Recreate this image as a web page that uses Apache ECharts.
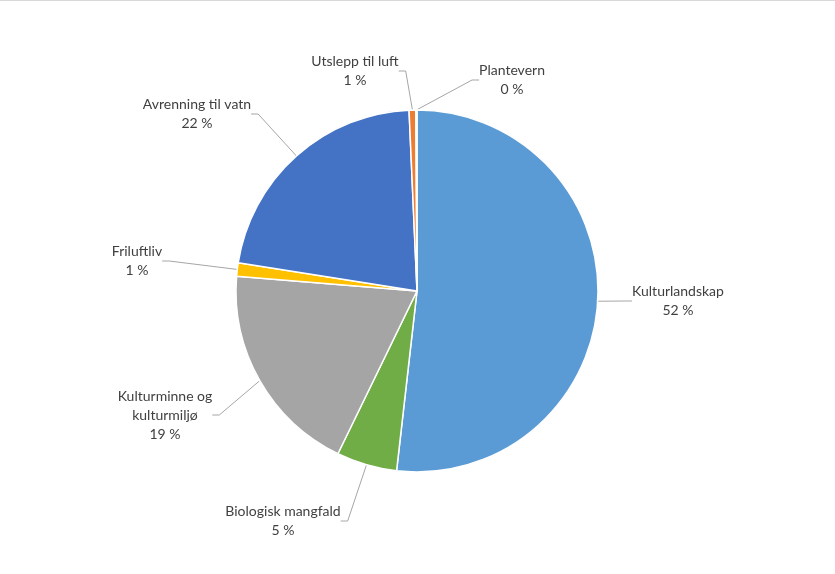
<!DOCTYPE html>
<html>
<head>
<meta charset="utf-8">
<script src="https://cdn.jsdelivr.net/npm/echarts@6/dist/echarts.min.js"></script>
<style>
  html, body { margin: 0; padding: 0; background: #fff; }
  #chart { width: 835px; height: 574px; box-sizing: border-box; border-top: 1px solid #d9d9d9; }
</style>
</head>
<body>
<div id="chart"></div>
<script>
// Data
const categories = ["Kulturlandskap", "Biologisk mangfald", "Kulturminne og\nkulturmiljø", "Friluftliv", "Avrenning til vatn", "Utslepp til luft", "Plantevern"];
const values = [51.8, 5.4, 19.1, 1.2, 21.8, 0.6, 0.1];
const colors = ["#5B9BD5", "#70AD47", "#A5A5A5", "#FFC000", "#4472C4", "#ED7D31", "#A5A5A5"];
// Label placement (centres of label blocks)
const labelPos = [[678, 300], [283, 520], [165, 414], [137, 260], [197, 113], [355, 70], [512, 79]];

const chart = echarts.init(document.getElementById('chart'), null, { renderer: 'canvas' });
const total = values.reduce((a, b) => a + b, 0);
chart.setOption({
  animation: false,
  backgroundColor: '#ffffff',
  series: [{
    type: 'pie',
    center: [417, 290],
    radius: [0, 181],
    startAngle: 90,
    clockwise: true,
    avoidLabelOverlap: false,
    minShowLabelAngle: 0,
    data: categories.map((c, i) => ({ name: c, value: values[i], itemStyle: { color: colors[i] } })),
    itemStyle: { borderColor: '#ffffff', borderWidth: 1.5 },
    label: {
      show: true,
      position: 'outside',
      fontFamily: 'Lato',
      fontSize: 14,
      lineHeight: 19,
      color: '#404040',
      align: 'center',
      formatter: p => p.name + '\n' + Math.round(p.value / total * 100) + ' %'
    },
    labelLine: {
      show: true,
      length: 10,
      length2: 7,
      smooth: false,
      lineStyle: { color: '#A6A6A6', width: 1 }
    },
    labelLayout: function (params) {
      const pos = labelPos[params.dataIndex];
      return { x: pos[0], y: pos[1], align: 'center', verticalAlign: 'middle' };
    },
    emphasis: { disabled: true }
  }]
});
</script>
</body>
</html>
